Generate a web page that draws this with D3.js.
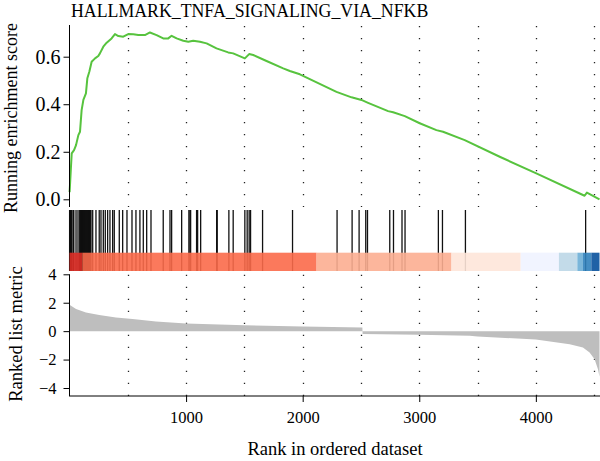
<!DOCTYPE html>
<html>
<head>
<meta charset="utf-8">
<title>GSEA plot</title>
<script src="https://d3js.org/d3.v7.min.js"></script>
<style>
  body { margin: 0; background: #fff; }
  svg text { font-family: "Liberation Serif", "DejaVu Serif", serif; fill: #000; }
</style>
</head>
<body>
<div id="chart"></div>
<script>
// ---- data ----
const geneSetName = "HALLMARK_TNFA_SIGNALING_VIA_NFKB";
const totalGenes = 4546;

// running enrichment score (rank, score)
const esRank = [1, 13, 19, 39, 56, 76, 90, 104, 119, 141, 153, 170, 190, 219, 247, 261, 290, 319, 361, 390,
  419, 461, 504, 547, 590, 647, 690, 747, 804, 847, 876, 919, 976, 1019, 1061, 1119, 1176, 1261, 1361, 1404,
  1504, 1541, 1576, 1690, 1833, 1890, 1976, 2290, 2419, 2504, 2561, 2733, 2776, 2876, 3004, 3147, 3204, 3390,
  3690, 4004, 4418, 4438, 4546];
const esScore = [0.03, 0.14, 0.193, 0.207, 0.228, 0.27, 0.284, 0.375, 0.418, 0.446, 0.509, 0.537, 0.579, 0.593, 0.603, 0.614, 0.642, 0.659, 0.677, 0.695,
  0.687, 0.684, 0.695, 0.694, 0.691, 0.691, 0.702, 0.691, 0.677, 0.677, 0.688, 0.677, 0.667, 0.663, 0.667, 0.663, 0.656, 0.635, 0.618, 0.614,
  0.593, 0.611, 0.607, 0.582, 0.551, 0.54, 0.526, 0.452, 0.429, 0.418, 0.406, 0.371, 0.366, 0.35, 0.32, 0.291, 0.284, 0.249,
  0.179, 0.109, 0.015, 0.028, 0.0];

// ranks of genes in the set
const hitRanks = [1, 3, 5, 7, 9, 11, 14, 17, 21, 33, 37, 56, 73, 88, 91, 94, 97, 100, 103, 106, 109, 112, 115, 118,
  121, 124, 127, 130, 133, 137, 141, 144, 148, 152, 156, 160, 164, 168, 172, 176, 180, 184, 199, 227, 255, 270,
  290, 307, 327, 347, 370, 384, 427, 456, 493, 536, 570, 604, 633, 662, 699, 804, 862, 876, 962, 1024, 1033, 1039,
  1090, 1099, 1125, 1262, 1267, 1367, 1404, 1504, 1524, 1541, 1553, 1656, 1913, 2295, 2424, 2484, 2541, 2556,
  2747, 2779, 2852, 2878, 3164, 3199, 3396, 4427];

// ranked list metric (rank, value)
const metricRank = [0, 13, 56, 141, 255, 398, 541, 741, 1000, 1500, 2000, 2512, 2514, 3000, 3433, 3500, 4000, 4290, 4404, 4461, 4504, 4533, 4546];
const metricValue = [1.85, 1.78, 1.55, 1.31, 1.13, 0.96, 0.85, 0.68, 0.54, 0.42, 0.32, 0.25, -0.2, -0.26, -0.33, -0.38, -0.58, -0.92, -1.15, -1.5, -1.97, -2.68, -3.2];

// colour bar bins along the ranking
const binStart = [0, 110, 2119, 3276, 3870, 4198, 4356, 4404, 4476];
const binEnd = [110, 2119, 3276, 3870, 4198, 4356, 4404, 4476, 4546];
const binColor = ["#DE2D26", "#FB6A4A", "#FCAE91", "#FEE5D9", "#EFF3FF", "#BDD7E7", "#6BAED6", "#3182BD", "#08519C"];

const xTicks = [1000, 2000, 3000, 4000];
const gridRanks = [500, 1000, 1500, 2000, 2500, 3000, 3500, 4000, 4500];
const esTicks = [0, 0.2, 0.4, 0.6];
const metricTicks = [-4, -2, 0, 2, 4];

// ---- layout ----
const width = 600, height = 461;
const svg = d3.select("#chart").append("svg")
  .attr("width", width).attr("height", height);

const x = d3.scaleLinear().domain([0, totalGenes]).range([69.5, 599.5]);
const yES = d3.scaleLinear().domain([0, 0.6]).range([199.3, 56.7]);
const yM = d3.scaleLinear().domain([-4, 4]).range([388, 274.3]);

const topPanel = { top: 25, bottom: 207 };
const hitPanel = { top: 210, bottom: 252.7 };
const barPanel = { top: 252.7, bottom: 271 };
const botPanel = { top: 274.3, bottom: 396 };

// title
svg.append("text").attr("x", 71).attr("y", 16.5)
  .attr("font-size", 17.8).text(geneSetName);

// dotted vertical guides
function guides(top, bottom) {
  svg.append("g").selectAll("line").data(gridRanks).join("line")
    .attr("x1", d => Math.round(x(d)) + 0.5).attr("x2", d => Math.round(x(d)) + 0.5)
    .attr("y1", top).attr("y2", bottom)
    .attr("stroke", "#222").attr("stroke-width", 1.3)
    .attr("stroke-dasharray", "1.3,10.7");
}
guides(topPanel.top + 1, topPanel.bottom);
guides(botPanel.top + 0.5, botPanel.bottom);

// running enrichment score line
const esLine = d3.line().x((d, i) => x(esRank[i])).y(d => yES(d));
svg.append("path").datum(esScore)
  .attr("d", esLine).attr("fill", "none")
  .attr("stroke", "#57c33e").attr("stroke-width", 2).attr("stroke-linejoin", "round");

// hits (extend under the colour bar)
svg.append("g").selectAll("line").data(hitRanks).join("line")
  .attr("x1", d => x(d)).attr("x2", d => x(d))
  .attr("y1", hitPanel.top).attr("y2", barPanel.bottom)
  .attr("stroke", "#111").attr("stroke-width", 1.3);

// colour bar
svg.append("g").selectAll("rect").data(binColor).join("rect")
  .attr("x", (d, i) => x(binStart[i])).attr("width", (d, i) => x(binEnd[i]) - x(binStart[i]))
  .attr("y", barPanel.top).attr("height", barPanel.bottom - barPanel.top)
  .attr("fill", d => d).attr("fill-opacity", 0.9);

// ranked metric area
const mArea = d3.area().x((d, i) => x(metricRank[i])).y0(yM(0)).y1(d => yM(d));
svg.append("path").datum(metricValue)
  .attr("d", mArea).attr("fill", "#BEBEBE");

// axes
const gTop = svg.append("g").attr("transform", "translate(69.5,0)")
  .call(d3.axisLeft(yES).tickValues(esTicks).tickFormat(d3.format(".1f")).tickSize(6).tickPadding(3));
gTop.select(".domain").remove();
gTop.selectAll("text").attr("font-size", 20).attr("font-family", "Liberation Serif");
svg.append("line").attr("x1", 69.5).attr("x2", 69.5)
  .attr("y1", topPanel.top).attr("y2", topPanel.bottom).attr("stroke", "#000");

const gBotY = svg.append("g").attr("transform", "translate(69.5,0)")
  .call(d3.axisLeft(yM).tickValues(metricTicks).tickSize(6).tickPadding(7));
gBotY.select(".domain").remove();
gBotY.selectAll("text").attr("font-size", 16.5).attr("font-family", "Liberation Serif");
svg.append("line").attr("x1", 69.5).attr("x2", 69.5)
  .attr("y1", botPanel.top).attr("y2", botPanel.bottom).attr("stroke", "#000");

const gX = svg.append("g").attr("transform", `translate(0,${botPanel.bottom})`)
  .call(d3.axisBottom(x).tickValues(xTicks).tickFormat(d3.format("d")).tickSize(6).tickPadding(9));
gX.select(".domain").remove();
gX.selectAll("text").attr("font-size", 16.5).attr("font-family", "Liberation Serif");
svg.append("line").attr("x1", 69).attr("x2", 600)
  .attr("y1", botPanel.bottom).attr("y2", botPanel.bottom).attr("stroke", "#000");

// axis titles
svg.append("text").attr("transform", "translate(17,118) rotate(-90)")
  .attr("text-anchor", "middle").attr("font-size", 18).text("Running enrichment score");
svg.append("text").attr("transform", "translate(22,334) rotate(-90)")
  .attr("text-anchor", "middle").attr("font-size", 18.5).text("Ranked list metric");
svg.append("text").attr("x", 335).attr("y", 455)
  .attr("text-anchor", "middle").attr("font-size", 18.5).text("Rank in ordered dataset");
</script>
</body>
</html>
